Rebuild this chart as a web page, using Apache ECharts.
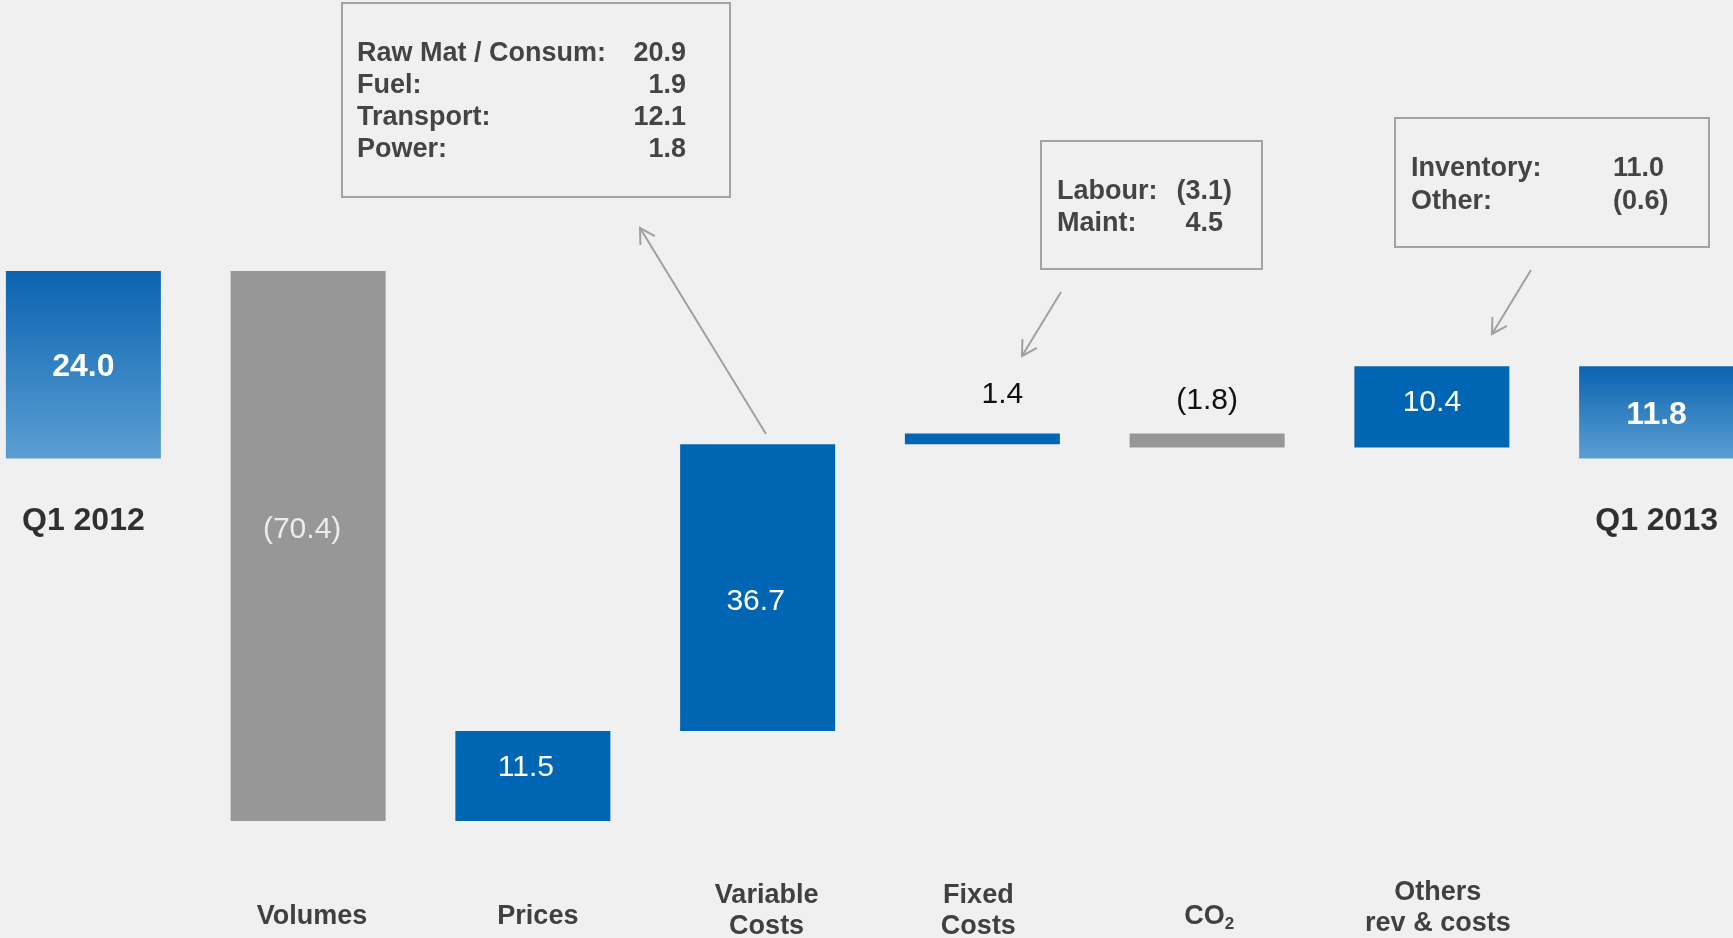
<!DOCTYPE html>
<html>
<head>
<meta charset="utf-8">
<style>
  html, body { margin: 0; padding: 0; background: #f0f0f0; }
  #chart { width: 1733px; height: 938px; }
</style>
<script src="https://cdn.jsdelivr.net/npm/echarts@6/dist/echarts.min.js"></script>
</head>
<body>
<div id="chart"></div>
<script>
// ---- data ----
const categories = ['Q1 2012', 'Volumes', 'Prices', 'Variable\nCosts', 'Fixed\nCosts', 'CO2', 'Others\nrev & costs', 'Q1 2013'];
const values = [24.0, -70.4, 11.5, 36.7, 1.4, -1.8, 10.4, 11.8];
const isTotal = [true, false, false, false, false, false, false, true];

const box1Labels = ['Raw Mat / Consum:', 'Fuel:', 'Transport:', 'Power:'];
const box1Values = ['20.9', '1.9', '12.1', '1.8'];
const box2Labels = ['Labour:', 'Maint:'];
const box2Values = ['(3.1)', '4.5'];
const box3Labels = ['Inventory:', 'Other:'];
const box3Values = ['11.0', '(0.6)'];

// ---- styles ----
const FONT = '"Liberation Sans", Arial, Helvetica, sans-serif';
const BLUE = '#0066b3';
const GRAY = '#979797';
const TOTAL_GRAD = new echarts.graphic.LinearGradient(0, 0, 0, 1, [
  { offset: 0, color: '#0b63b0' },
  { offset: 1, color: '#5a9fd3' }
]);
// label placement per bar (style only)
const labelOffsets = [[0, 3], [-6, -16], [-7, -8], [-2, 14], [20, 3], [0, 3], [0, -4], [0, 3]];
const labelAbove = [false, false, false, false, true, true, false, false];
const labelDistance = [0, 0, 0, 0, 27, 21, 0, 0];
// small horizontal nudges of the category labels (style only, px)
const axisLabelDx = [0, 4, 5, 9, -4, 2, 6, 0];

// ---- build waterfall ----
const fmt = v => v < 0 ? '(' + Math.abs(v).toFixed(1) + ')' : v.toFixed(1);
const baseData = [];
const barData = [];
let running = 0;
values.forEach((v, i) => {
  let lo, h;
  if (isTotal[i]) { lo = 0; h = v; running = v; }
  else { const s = running, e = running + v; lo = Math.min(s, e); h = Math.abs(v); running = e; }
  baseData.push(lo);
  const color = isTotal[i] ? TOTAL_GRAD : (v >= 0 ? BLUE : GRAY);
  const lbl = {
    show: true,
    formatter: fmt(v),
    fontFamily: FONT,
    fontSize: isTotal[i] ? 32 : 30,
    fontWeight: isTotal[i] ? 'bold' : 'normal',
    color: labelAbove[i] ? '#111' : (v < 0 ? '#ececec' : '#ffffff'),
    position: labelAbove[i] ? 'top' : 'inside',
    distance: labelDistance[i],
    offset: labelOffsets[i]
  };
  barData.push({ value: h, itemStyle: { color: color }, label: lbl });
});

const totalPoints = [];
categories.forEach((c, i) => { if (isTotal[i]) totalPoints.push({ value: [i, 0], name: c }); });

// category label rich styles
const base = { fontFamily: FONT, fontSize: 27, fontWeight: 'bold', color: '#404040', lineHeight: 31 };
const rich = {};
function hpad(i) { const d = axisLabelDx[i]; return d >= 0 ? [0, 2 * d] : [-2 * d, 0]; } // [right, left]
categories.forEach((c, i) => {
  const [r, l] = hpad(i);
  rich['a' + i] = Object.assign({}, base, { padding: [11, r, 0, l] });  // single line
  rich['m' + i] = Object.assign({}, base, { padding: [0, r, 0, l] });   // multi line
});
rich.sub = { fontFamily: FONT, fontSize: 17, fontWeight: 'bold', color: '#404040', lineHeight: 31, padding: [26, 0, 0, 0] };
rich.gap = { fontFamily: FONT, fontSize: 1, lineHeight: 6, color: 'transparent' };

function axisFmt(v, i) {
  if (isTotal[i]) return '';
  if (v === 'CO2') return '{a' + i + '|CO}{sub|2}';
  const lines = v.split('\n');
  if (lines.length === 1) return '{a' + i + '|' + v + '}';
  let s = lines.map(t => '{m' + i + '|' + t + '}').join('\n');
  if (i === 6) s += '\n{gap| }';
  return s;
}

const chart = echarts.init(document.getElementById('chart'), null, { renderer: 'canvas' });

function textEl(x, y, text, align) {
  return {
    type: 'text', x: x, y: y, silent: true,
    style: { text: text, fontFamily: FONT, fontSize: 27, fontWeight: 'bold', fill: '#444444',
             align: align, verticalAlign: 'middle' }
  };
}
function boxEl(x, y, w, h) {
  return { type: 'rect', shape: { x: x, y: y, width: w, height: h }, silent: true,
           style: { fill: 'none', stroke: '#a3a3a3', lineWidth: 2 } };
}
function arrowEls(x1, y1, x2, y2) {
  const ang = Math.atan2(y2 - y1, x2 - x1);
  const L = 17, A = Math.PI / 6;
  const p1 = [x2 - L * Math.cos(ang - A), y2 - L * Math.sin(ang - A)];
  const p2 = [x2 - L * Math.cos(ang + A), y2 - L * Math.sin(ang + A)];
  return [
    { type: 'line', silent: true, shape: { x1: x1, y1: y1, x2: x2, y2: y2 }, style: { stroke: '#a0a0a0', lineWidth: 2 } },
    { type: 'polyline', silent: true, shape: { points: [p1, [x2, y2], p2] }, style: { stroke: '#a0a0a0', lineWidth: 2, fill: 'none' } }
  ];
}

const graphics = [];
graphics.push(boxEl(342, 3, 388, 194));
box1Labels.forEach((t, i) => graphics.push(textEl(357, 54 + i * 32, t, 'left')));
box1Values.forEach((t, i) => graphics.push(textEl(686, 54 + i * 32, t, 'right')));
graphics.push(boxEl(1041, 141, 221, 128));
box2Labels.forEach((t, i) => graphics.push(textEl(1057, 192 + i * 32, t, 'left')));
box2Values.forEach((t, i) => graphics.push(textEl(t.startsWith('(') ? 1232 : 1223, 192 + i * 32, t, 'right')));
graphics.push(boxEl(1395, 118, 314, 129));
box3Labels.forEach((t, i) => graphics.push(textEl(1411, 169 + i * 33, t, 'left')));
box3Values.forEach((t, i) => graphics.push(textEl(1613, 169 + i * 33, t, 'left')));
graphics.push(...arrowEls(766, 434, 640, 228));
graphics.push(...arrowEls(1061, 292, 1022, 356));
graphics.push(...arrowEls(1531, 270, 1492, 334));

chart.setOption({
  backgroundColor: '#f0f0f0',
  animation: false,
  grid: { left: -29, top: 224, width: 1798, height: 625, containLabel: false, outerBoundsMode: 'none' },
  xAxis: {
    type: 'category',
    data: categories,
    axisLine: { show: false },
    axisTick: { show: false },
    splitLine: { show: false },
    axisLabel: {
      interval: 0,
      margin: 62,
      verticalAlign: 'middle',
      fontFamily: FONT,
      fontSize: 27,
      fontWeight: 'bold',
      color: '#404040',
      lineHeight: 31,
      formatter: axisFmt,
      rich: rich
    }
  },
  yAxis: {
    type: 'value',
    min: -50,
    max: 30,
    show: false,
    splitLine: { show: false }
  },
  series: [
    {
      type: 'bar', stack: 'wf', stackStrategy: 'all', barWidth: 155, silent: true,
      itemStyle: { color: 'transparent' }, data: baseData
    },
    {
      type: 'bar', stack: 'wf', stackStrategy: 'all', barWidth: 155, silent: true,
      data: barData
    },
    {
      type: 'scatter', symbolSize: 1, silent: true,
      itemStyle: { color: 'transparent' },
      label: {
        show: true, position: 'inside', offset: [0, 63],
        formatter: p => p.name,
        fontFamily: FONT, fontSize: 32, fontWeight: 'bold', color: '#000000'
      },
      data: totalPoints
    }
  ],
  graphic: graphics
});
</script>
</body>
</html>
